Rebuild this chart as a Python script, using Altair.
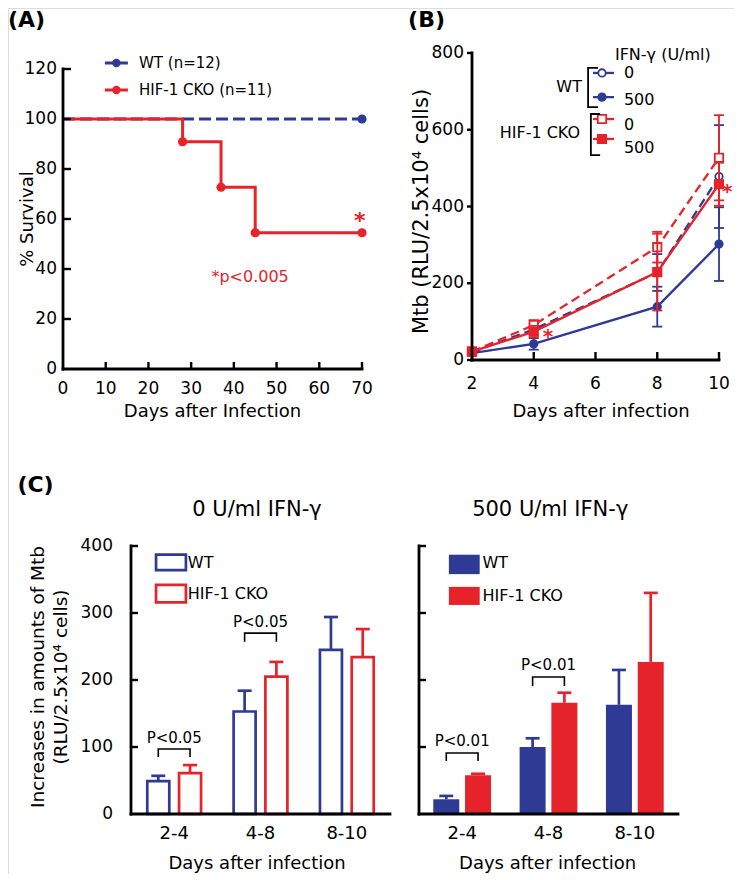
import altair as alt
import pandas as pd

FONT = "DejaVu Sans"
BLUE = "#2E3A94"
RED = "#E6232A"
BLACK = "#000000"
W, H = 726, 866

# ---------------- data ----------------
# (A) survival after infection
A_WT_DAYS = [0, 70]
A_WT_SURV = [100, 100]
A_HIF_DAYS = [0, 28, 37, 45, 70]
A_HIF_SURV = [100, 90.9, 72.7, 54.5, 54.5]
A_X_TICKS = [0, 10, 20, 30, 40, 50, 60, 70]
A_Y_TICKS = [0, 20, 40, 60, 80, 100, 120]
A_LEGEND = ["WT (n=12)", "HIF-1 CKO (n=11)"]

# (B) Mtb growth in macrophages
B_DAYS = [2, 4, 8, 10]
B_WT_0 = [20, 80, 228, 478]
B_WT_0_ERR = [4, 15, 48, 134]
B_WT_500 = [18, 42, 139, 302]
B_WT_500_ERR = [4, 15, 52, 96]
B_HIF_0 = [22, 91, 294, 527]
B_HIF_0_ERR = [5, 13, 40, 111]
B_HIF_500 = [22, 74, 229, 458]
B_HIF_500_ERR = [5, 15, 100, 56]
B_X_TICKS = [2, 4, 6, 8, 10]
B_Y_TICKS = [0, 200, 400, 600, 800]

# (C) increases between days
C_INTERVALS = ["2-4", "4-8", "8-10"]
C0_WT = [49, 153, 245]
C0_WT_ERR = [8, 31, 49]
C0_HIF = [61, 205, 234]
C0_HIF_ERR = [12, 22, 42]
C500_WT = [22, 100, 163]
C500_WT_ERR = [5, 13, 52]
C500_HIF = [58, 166, 227]
C500_HIF_ERR = [2, 15, 103]
C_Y_TICKS = [0, 100, 200, 300, 400]
C0_PVALS = ["P<0.05", "P<0.05"]
C500_PVALS = ["P<0.01", "P<0.01"]

SERIES = ["WT", "HIF-1 CKO"]

# ---------------- layout (canvas pixels / data-space anchors) ----------------
A_XR, A_YR = [55, 354], [361, 61]
B_XR, B_YR = [464, 711], [352, 45]
CL_XR, CR_XR, C_YR = [118, 387], [406, 675], [806, 538]
BAR_OFF = 0.184
AXIS_W = 2.8

color_scale = alt.Scale(domain=SERIES, range=[BLUE, RED])
COLOR = {"WT": BLUE, "HIF-1 CKO": RED}


def lin(domain, rng):
    return alt.Scale(type="linear", domain=domain, range=rng, nice=False, zero=False)


def X(f, s):
    return alt.X(f, scale=s, axis=None)


def Y(f, s):
    return alt.Y(f, scale=s, axis=None)


def texts(rows, xs, ys, **mk):
    df = pd.DataFrame(rows, columns=["x", "y", "t"])
    base = dict(font=FONT, color=BLACK, fontSize=16, align="center", baseline="middle")
    base.update(mk)
    return alt.Chart(df).mark_text(**base).encode(
        x=X("x:Q", xs), y=Y("y:Q", ys), text="t:N")


def segs(rows, xs, ys, width=AXIS_W, color=BLACK):
    df = pd.DataFrame(rows, columns=["x1", "x2", "y1", "y2"])
    return alt.Chart(df).mark_rule(color=color, strokeWidth=width, strokeCap="square").encode(
        x=X("x1:Q", xs), x2="x2:Q", y=Y("y1:Q", ys), y2="y2:Q")


def ticks_x(values, xs, ys, at=0, length=8, inward=True):
    df = pd.DataFrame({"v": values, "b": [at] * len(values)})
    off = -length / 2 if inward else length / 2
    return alt.Chart(df).mark_tick(orient="vertical", size=length, thickness=2.4,
                                   color=BLACK, opacity=1, yOffset=off).encode(
        x=X("v:Q", xs), y=Y("b:Q", ys))


def ticks_y(values, xs, ys, at=0, length=8, inward=True):
    df = pd.DataFrame({"v": values, "b": [at] * len(values)})
    off = length / 2 if inward else -length / 2
    return alt.Chart(df).mark_tick(orient="horizontal", size=length, thickness=2.4,
                                   color=BLACK, opacity=1, xOffset=off).encode(
        x=X("b:Q", xs), y=Y("v:Q", ys))


def labels_x(values, names, xs, ys, at, dy, size=17):
    rows = [(v, at, n) for v, n in zip(values, names)]
    return texts(rows, xs, ys, fontSize=size, baseline="top", dy=dy)


def labels_y(values, xs, ys, at, dx, size=17):
    rows = [(at, v, str(v)) for v in values]
    return texts(rows, xs, ys, fontSize=size, align="right", dx=dx)


def polyline(groups, xs, ys, color=BLACK, width=1.8):
    rows = []
    for g, pts in enumerate(groups):
        for o, (px, py) in enumerate(pts):
            rows.append({"g": g, "o": o, "x": px, "y": py})
    return alt.Chart(pd.DataFrame(rows)).mark_line(color=color, strokeWidth=width).encode(
        x=X("x:Q", xs), y=Y("y:Q", ys), order="o:Q", detail="g:N")


# ================= Panel A =================
xA, yA = lin([0, 70], A_XR), lin([0, 120], A_YR)
dfA_wt = pd.DataFrame({"day": A_WT_DAYS, "surv": A_WT_SURV})
dfA_hif = pd.DataFrame({"day": A_HIF_DAYS, "surv": A_HIF_SURV})

a_layers = [
    alt.Chart(dfA_wt).mark_line(color=BLUE, strokeWidth=3, strokeDash=[12, 5]).encode(
        x=X("day:Q", xA), y=Y("surv:Q", yA)),
    alt.Chart(dfA_hif).mark_line(color=RED, strokeWidth=3, interpolate="step-after").encode(
        x=X("day:Q", xA), y=Y("surv:Q", yA)),
    alt.Chart(dfA_wt.tail(1)).mark_point(shape="circle", filled=True, size=85, opacity=1,
                                         color=BLUE).encode(x=X("day:Q", xA), y=Y("surv:Q", yA)),
    alt.Chart(dfA_hif.iloc[1:]).mark_point(shape="circle", filled=True, size=85, opacity=1,
                                           color=RED).encode(x=X("day:Q", xA), y=Y("surv:Q", yA)),
    # axes
    segs([(0, 70, 0, 0), (0, 0, 0, 120)], xA, yA),
    ticks_x(A_X_TICKS[1:], xA, yA, length=7),
    ticks_y(A_Y_TICKS[1:], xA, yA, length=8),
    labels_x(A_X_TICKS, [str(v) for v in A_X_TICKS], xA, yA, 0, 12),
    labels_y(A_Y_TICKS, xA, yA, 0, -6),
    texts([(35, 0, "Days after Infection")], xA, yA, fontSize=18, baseline="alphabetic", dy=48),
    texts([(-7.0, 60, "% Survival")], xA, yA, fontSize=18, baseline="alphabetic", angle=270),
]
legA = pd.DataFrame({"label": A_LEGEND, "series": SERIES, "y": [122.4, 111.6],
                     "x1": 9.8, "x2": 15.2, "xd": 12.5, "xt": 17.8})
a_layers += [
    alt.Chart(legA).mark_rule(strokeWidth=3).encode(
        x=X("x1:Q", xA), x2="x2:Q", y=Y("y:Q", yA),
        color=alt.Color("series:N", scale=color_scale, legend=None)),
    alt.Chart(legA).mark_point(shape="circle", filled=True, size=70, opacity=1).encode(
        x=X("xd:Q", xA), y=Y("y:Q", yA),
        color=alt.Color("series:N", scale=color_scale, legend=None)),
    alt.Chart(legA).mark_text(font=FONT, fontSize=15, align="left", baseline="middle",
                              color=BLACK).encode(x=X("xt:Q", xA), y=Y("y:Q", yA), text="label:N"),
    texts([(69.5, 56.6, "*")], xA, yA, color=RED, fontSize=22, fontWeight="bold",
          baseline="alphabetic"),
    texts([(43.8, 36.8, "*p<0.005")], xA, yA, color=RED, fontSize=16),
    texts([(-12.9, 139.6, "(A)")], xA, yA, fontSize=22, fontWeight="bold", align="left"),
]
panel_a = alt.layer(*a_layers)

# ================= Panel B =================
xB, yB = lin([2, 10], B_XR), lin([0, 800], B_YR)

B_SERIES = [("WT", "0", B_WT_0, B_WT_0_ERR), ("WT", "500", B_WT_500, B_WT_500_ERR),
            ("HIF-1 CKO", "0", B_HIF_0, B_HIF_0_ERR),
            ("HIF-1 CKO", "500", B_HIF_500, B_HIF_500_ERR)]


def marker_kw(geno, dose):
    col = COLOR[geno]
    wt = geno == "WT"
    return dict(shape="circle" if wt else "square", size=55 if wt else 70, filled=True,
                opacity=1, stroke=col, strokeWidth=1.8,
                fill="white" if dose == "0" else col)


b_layers = []
for geno, dose, vals, errs in B_SERIES:
    col = COLOR[geno]
    df = pd.DataFrame({"day": B_DAYS, "value": vals, "err": errs})
    df["lo"] = df["value"] - df["err"]
    df["hi"] = df["value"] + df["err"]
    caps = pd.concat([pd.DataFrame({"day": df["day"], "v": df["lo"]}),
                      pd.DataFrame({"day": df["day"], "v": df["hi"]})])
    line_kw = dict(color=col, strokeWidth=2.3)
    if dose == "0":
        line_kw["strokeDash"] = [9, 5]
    b_layers += [
        alt.Chart(df).mark_rule(color=col, strokeWidth=1.8).encode(
            x=X("day:Q", xB), y=Y("lo:Q", yB), y2="hi:Q"),
        alt.Chart(caps).mark_tick(orient="horizontal", size=10, thickness=1.8, color=col,
                                  opacity=1).encode(x=X("day:Q", xB), y=Y("v:Q", yB)),
        alt.Chart(df).mark_line(**line_kw).encode(x=X("day:Q", xB), y=Y("value:Q", yB)),
        alt.Chart(df).mark_point(**marker_kw(geno, dose)).encode(
            x=X("day:Q", xB), y=Y("value:Q", yB)),
    ]

b_layers += [
    segs([(2, 10, 0, 0), (2, 2, 0, 800)], xB, yB),
    ticks_x(B_X_TICKS[1:], xB, yB, length=8),
    ticks_y(B_Y_TICKS, xB, yB, at=2, length=5, inward=False),
    labels_x(B_X_TICKS, [str(v) for v in B_X_TICKS], xB, yB, 0, 15.5),
    labels_y(B_Y_TICKS, xB, yB, 2, -8),
    texts([(6.18, 0, "Days after infection")], xB, yB, fontSize=18, baseline="alphabetic", dy=57),
    texts([(0.575, 387, "Mtb (RLU/2.5x10\u2074 cells)")], xB, yB, fontSize=21,
          baseline="alphabetic", angle=270),
]

# legend of panel B
B_LEG_LINE = (5.92, 6.60)
B_LEG_SYM = 6.21
B_LEG_NUM = 6.92
B_LEG_Y = [(748, 748), (685, 677), (628, 612), (576, 552)]
for (geno, dose, _, _), (ys, yt) in zip(B_SERIES, B_LEG_Y):
    col = COLOR[geno]
    d = pd.DataFrame({"x1": [B_LEG_LINE[0]], "x2": [B_LEG_LINE[1]], "xs": [B_LEG_SYM], "y": [ys]})
    b_layers += [
        alt.Chart(d).mark_rule(color=col, strokeWidth=2.3).encode(
            x=X("x1:Q", xB), x2="x2:Q", y=Y("y:Q", yB)),
        alt.Chart(d).mark_point(**marker_kw(geno, dose)).encode(x=X("xs:Q", xB), y=Y("y:Q", yB)),
    ]
    b_layers.append(texts([(B_LEG_NUM, yt, dose)], xB, yB, align="left", fontSize=16))

b_layers += [
    texts([(6.63, 795, "IFN-\u03b3 (U/ml)")], xB, yB, align="left", fontSize=16),
    texts([(5.56, 712, "WT")], xB, yB, align="right", fontSize=16),
    texts([(5.50, 591, "HIF-1 CKO")], xB, yB, align="right", fontSize=16),
    polyline([[(6.08, 761), (5.76, 761), (5.76, 659), (6.08, 659)],
              [(6.15, 641), (5.85, 641), (5.85, 534), (6.15, 534)]], xB, yB),
    texts([(4.46, 43, "*"), (10.27, 421, "*")], xB, yB, color=RED, fontSize=20,
          fontWeight="bold", baseline="alphabetic"),
    texts([(-0.07, 886, "(B)")], xB, yB, fontSize=22, fontWeight="bold", align="left"),
]
panel_b = alt.layer(*b_layers)

# ================= Panel C =================
yC = lin([0, 400], C_YR)


def c_frame(wt, wt_err, hif, hif_err):
    rows = []
    for i, cat in enumerate(C_INTERVALS):
        for s, vals, errs, off in (("WT", wt, wt_err, -BAR_OFF), ("HIF-1 CKO", hif, hif_err, BAR_OFF)):
            rows.append({"interval": cat, "series": s, "pos": i + 0.5 + off,
                         "value": vals[i], "top": vals[i] + errs[i], "zero": 0})
    return pd.DataFrame(rows)


def c_panel(xr, wt, wt_err, hif, hif_err, outlined, left, title, title_x, pvals,
            brackets, leg_rect, leg_text_x, leg_y, label_rows):
    xs = lin([0, 3], xr)
    df = c_frame(wt, wt_err, hif, hif_err)
    col = alt.Color("series:N", scale=color_scale, legend=None)
    if outlined:
        bars = alt.Chart(df).mark_bar(orient="vertical", size=22, fill="white",
                                      strokeWidth=2.7).encode(
            x=X("pos:Q", xs), y=Y("value:Q", yC), y2="zero:Q",
            stroke=alt.Stroke("series:N", scale=color_scale, legend=None))
    else:
        bars = alt.Chart(df).mark_bar(orient="vertical", size=26).encode(
            x=X("pos:Q", xs), y=Y("value:Q", yC), y2="zero:Q", color=col)
    group_pos = [i + 0.5 for i in range(len(C_INTERVALS))]
    layers = [
        bars,
        alt.Chart(df).mark_rule(strokeWidth=2.7).encode(
            x=X("pos:Q", xs), y=Y("value:Q", yC), y2="top:Q", color=col),
        alt.Chart(df).mark_tick(orient="horizontal", size=14, thickness=2.7, opacity=1).encode(
            x=X("pos:Q", xs), y=Y("top:Q", yC), color=col),
        segs([(0, 3, 0, 0), (0, 0, 0, 400)], xs, yC),
        ticks_y(C_Y_TICKS[1:], xs, yC, length=7),
        labels_x(group_pos, C_INTERVALS, xs, yC, 0, 11, size=18),
        texts([(title_x, 0, "Days after infection")], xs, yC, fontSize=18,
              baseline="alphabetic", dy=55),
    ]
    if left:
        layers += [
            labels_y(C_Y_TICKS, xs, yC, 0, -18),
            texts([(-1.004, 204.5, "Increases in amounts of Mtb"),
                   (-0.747, 204.5, "(RLU/2.5x10\u2074 cells)")], xs, yC, fontSize=18.5,
                  baseline="alphabetic", angle=270),
        ]
    # significance brackets
    groups, ptxt = [], []
    for i, ((yb, yt, ytext), p) in enumerate(zip(brackets, pvals)):
        a, b = i + 0.5 - BAR_OFF, i + 0.5 + BAR_OFF
        groups.append([(a, yb), (a, yt), (b, yt), (b, yb)])
        ptxt.append((i + 0.5, ytext, p))
    layers += [polyline(groups, xs, yC, width=1.6), texts(ptxt, xs, yC, fontSize=15)]
    # legend
    leg = pd.DataFrame({"series": SERIES, "x1": leg_rect[0], "x2": leg_rect[1],
                        "y1": [leg_y[0][0], leg_y[1][0]], "y2": [leg_y[0][1], leg_y[1][1]],
                        "xt": leg_text_x, "yt": [leg_y[0][2], leg_y[1][2]]})
    if outlined:
        rect = alt.Chart(leg).mark_rect(fill="white", strokeWidth=2.7).encode(
            x=X("x1:Q", xs), x2="x2:Q", y=Y("y1:Q", yC), y2="y2:Q",
            stroke=alt.Stroke("series:N", scale=color_scale, legend=None))
    else:
        rect = alt.Chart(leg).mark_rect().encode(
            x=X("x1:Q", xs), x2="x2:Q", y=Y("y1:Q", yC), y2="y2:Q", color=col)
    layers += [
        rect,
        alt.Chart(leg).mark_text(font=FONT, fontSize=16, align="left", baseline="middle",
                                 color=BLACK).encode(
            x=X("xt:Q", xs), y=Y("yt:Q", yC), text="series:N"),
        texts([title], xs, yC, fontSize=21),
    ]
    if label_rows:
        layers.append(texts(label_rows, xs, yC, fontSize=22, fontWeight="bold", align="left"))
    return alt.layer(*layers)


panel_cl = c_panel(CL_XR, C0_WT, C0_WT_ERR, C0_HIF, C0_HIF_ERR, outlined=True, left=True,
                   title=(1.46, 454, "0 U/ml IFN-\u03b3"), title_x=1.46, pvals=C0_PVALS,
                   brackets=[(85, 97, 113), (257, 270, 287)],
                   leg_rect=(0.29, 0.636), leg_text_x=0.658,
                   leg_y=[(364, 387, 375), (316, 342, 328)],
                   label_rows=[(-1.316, 491, "(C)")])
panel_cr = c_panel(CR_XR, C500_WT, C500_WT_ERR, C500_HIF, C500_HIF_ERR, outlined=False,
                   left=False, title=(1.52, 454, "500 U/ml IFN-\u03b3"), title_x=1.49,
                   pvals=C500_PVALS, brackets=[(79, 91, 109), (191, 204.5, 222)],
                   leg_rect=(0.346, 0.703), leg_text_x=0.736,
                   leg_y=[(358, 387, 375), (312, 339, 325)], label_rows=None)

chart = (
    alt.layer(panel_a, panel_b, panel_cl, panel_cr)
    .resolve_scale(x="independent", y="independent")
    .properties(width=W, height=H, autosize="none", padding=0)
    .configure_view(strokeOpacity=0, strokeWidth=0)
    .configure(font=FONT)
)

chart.save("out.html", embed_options={"renderer": "svg", "actions": False})
